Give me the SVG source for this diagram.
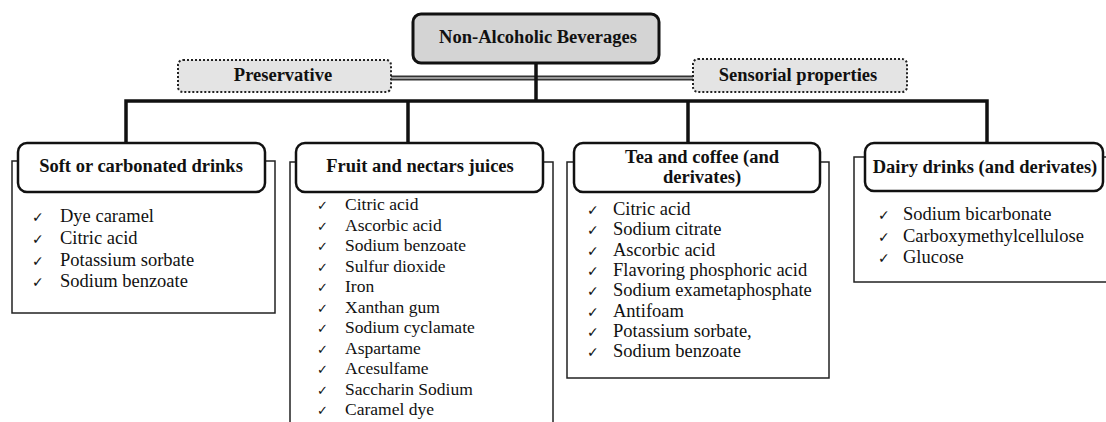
<svg xmlns="http://www.w3.org/2000/svg" width="1106" height="422" viewBox="0 0 1106 422">
<style>
.hdr{fill:#fff;stroke:#111;stroke-width:2.5}
.outer{fill:#fff;stroke:#222;stroke-width:1.5}
.conn{stroke:#111;stroke-width:3.5;fill:none}
.side{fill:#e4e4e4;stroke:#222;stroke-width:2;stroke-dasharray:2 2}
.ht{font-family:'Liberation Serif',serif;font-weight:bold;font-size:18.5px;fill:#111;text-anchor:middle}
.it{font-family:'Liberation Serif',serif;font-size:18.5px;fill:#111}
.it2{font-family:'Liberation Serif',serif;font-size:17.5px;fill:#111}
.ck{font-family:'DejaVu Sans',sans-serif;font-size:14px;fill:#111}
.ck2{font-family:'DejaVu Sans',sans-serif;font-size:13px;fill:#111}
</style>
<rect width="1106" height="422" fill="#fff"/>
<g id="connectors">
<line x1="391" y1="78" x2="693" y2="78" stroke="#333" stroke-width="5"/>
<line x1="391" y1="78" x2="693" y2="78" stroke="#999" stroke-width="2"/>
<polyline class="conn" points="536,63 536,101"/>
<polyline class="conn" points="126,143 126,101 987,101 987,143"/>
<line class="conn" x1="408" y1="101" x2="408" y2="143"/>
<line class="conn" x1="688" y1="101" x2="688" y2="143"/>
</g>
<g id="root">
<rect x="413" y="14" width="246" height="49" rx="8" fill="#d4d4d4" stroke="#111" stroke-width="3"/>
<text class="ht" x="538" y="43">Non-Alcoholic Beverages</text>
</g>
<g id="preservative">
<rect class="side" x="178" y="60" width="213" height="32" rx="5"/>
<text class="ht" x="283" y="81">Preservative</text>
</g>
<g id="sensorial">
<rect class="side" x="693" y="59" width="214" height="33" rx="5"/>
<text class="ht" x="798" y="81">Sensorial properties</text>
</g>
<g id="soft">
<rect class="outer" x="12" y="161" width="263" height="152"/>
<rect class="hdr" x="18" y="143" width="247" height="49" rx="9"/>
<text class="ht" x="141" y="172">Soft or carbonated drinks</text>
<g class="ck"><text x="32" y="222">✓</text><text x="32" y="244">✓</text><text x="32" y="266">✓</text><text x="32" y="287">✓</text></g>
<g class="it"><text x="60" y="222">Dye caramel</text><text x="60" y="244">Citric acid</text><text x="60" y="266">Potassium sorbate</text><text x="60" y="287">Sodium benzoate</text></g>
</g>
<g id="fruit">
<rect class="outer" x="290" y="162" width="263" height="270"/>
<rect class="hdr" x="296" y="143" width="247" height="49" rx="9"/>
<text class="ht" x="420" y="172">Fruit and nectars juices</text>
<g class="ck2"><text x="317" y="210">✓</text><text x="317" y="230.5">✓</text><text x="317" y="251">✓</text><text x="317" y="271.5">✓</text><text x="317" y="292">✓</text><text x="317" y="312.5">✓</text><text x="317" y="333">✓</text><text x="317" y="353.5">✓</text><text x="317" y="374">✓</text><text x="317" y="394.5">✓</text><text x="317" y="415">✓</text></g>
<g class="it2"><text x="345" y="210">Citric acid</text><text x="345" y="230.5">Ascorbic acid</text><text x="345" y="251">Sodium benzoate</text><text x="345" y="271.5">Sulfur dioxide</text><text x="345" y="292">Iron</text><text x="345" y="312.5">Xanthan gum</text><text x="345" y="333">Sodium cyclamate</text><text x="345" y="353.5">Aspartame</text><text x="345" y="374">Acesulfame</text><text x="345" y="394.5">Saccharin Sodium</text><text x="345" y="415">Caramel dye</text></g>
</g>
<g id="tea">
<rect class="outer" x="567" y="162" width="262" height="216"/>
<rect class="hdr" x="574" y="143" width="246" height="49" rx="9"/>
<text class="ht" x="702" y="163">Tea and coffee (and</text>
<text class="ht" x="702" y="183">derivates)</text>
<g class="ck"><text x="587" y="215">✓</text><text x="587" y="235.3">✓</text><text x="587" y="255.6">✓</text><text x="587" y="275.9">✓</text><text x="587" y="296.2">✓</text><text x="587" y="316.5">✓</text><text x="587" y="336.8">✓</text><text x="587" y="357">✓</text></g>
<g class="it"><text x="613" y="215">Citric acid</text><text x="613" y="235.3">Sodium citrate</text><text x="613" y="255.6">Ascorbic acid</text><text x="613" y="275.9">Flavoring phosphoric acid</text><text x="613" y="296.2">Sodium exametaphosphate</text><text x="613" y="316.5">Antifoam</text><text x="613" y="336.8">Potassium sorbate,</text><text x="613" y="357">Sodium benzoate</text></g>
</g>
<g id="dairy">
<rect class="outer" x="854" y="157" width="260" height="125"/>
<rect class="hdr" x="865" y="143" width="238" height="48" rx="9"/>
<text class="ht" x="985" y="173">Dairy drinks (and derivates)</text>
<g class="ck"><text x="878" y="220">✓</text><text x="878" y="242">✓</text><text x="878" y="263">✓</text></g>
<g class="it"><text x="903" y="220">Sodium bicarbonate</text><text x="903" y="242">Carboxymethylcellulose</text><text x="903" y="263">Glucose</text></g>
</g>
</svg>
